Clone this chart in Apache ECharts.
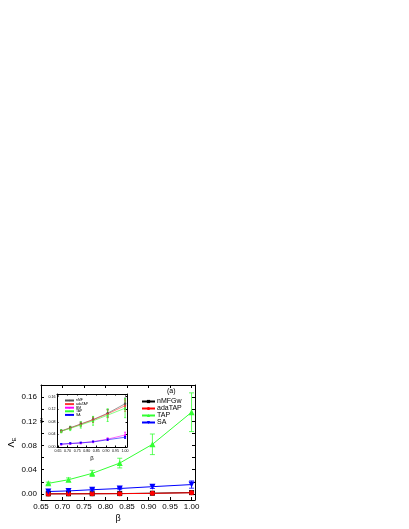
<!DOCTYPE html>
<html>
<head>
<meta charset="utf-8">
<script src="https://cdn.jsdelivr.net/npm/echarts@6/dist/echarts.min.js"></script>
<style>
  html, body { margin: 0; padding: 0; background: #fff; }
  #main { width: 409px; height: 529px; }
</style>
</head>
<body>
<div id="main"></div>
<script>
// beta values (x)
var beta = [0.667, 0.714, 0.769, 0.833, 0.909, 1.0];

// main panel
var nmfgw = [0.0002, 0.0003, 0.0004, 0.0006, 0.0012, 0.0022];
var adaTap = [0.0001, 0.0002, 0.0003, 0.0005, 0.0010, 0.0020];
var tap = [0.0175, 0.0235, 0.034, 0.051, 0.082, 0.135];
var tapErr = [0.002, 0.003, 0.005, 0.008, 0.017, 0.032];
var sa = [0.004, 0.005, 0.007, 0.009, 0.012, 0.0155];
var saErr = [0.001, 0.001, 0.0015, 0.002, 0.003, 0.006];

// inset
var inNmf = [0.051, 0.061, 0.073, 0.087, 0.107, 0.137];
var inNmfErr = [0.003, 0.004, 0.006, 0.008, 0.012, 0.018];
var inAda = [0.050, 0.060, 0.072, 0.086, 0.105, 0.131];
var inAdaErr = [0.003, 0.004, 0.006, 0.008, 0.012, 0.018];
var inBm = [0.009, 0.011, 0.013, 0.017, 0.025, 0.038];
var inBmErr = [0.001, 0.001, 0.002, 0.002, 0.004, 0.009];
var inTap = [0.050, 0.059, 0.070, 0.083, 0.101, 0.123];
var inTapErr = [0.005, 0.007, 0.010, 0.014, 0.020, 0.030];
var inSa = [0.009, 0.011, 0.013, 0.016, 0.023, 0.031];
var inSaErr = [0.001, 0.001, 0.001, 0.002, 0.002, 0.004];

var xTicks = [0.65, 0.70, 0.75, 0.80, 0.85, 0.90, 0.95, 1.00];
var yLabels = [0, 0.04, 0.08, 0.12, 0.16];
var yMinor = [0, 0.02, 0.04, 0.06, 0.08, 0.10, 0.12, 0.14, 0.16, 0.18];

var FONT = 'Liberation Sans';

function pts(ys) {
  return beta.map(function(b, i) { return [b, ys[i]]; });
}
function errs(ys, es) {
  return beta.map(function(b, i) { return [b, ys[i] - es[i], ys[i] + es[i]]; });
}

function errSeries(ys, es, color, xi, yi, cap) {
  return {
    type: 'custom',
    xAxisIndex: xi,
    yAxisIndex: yi,
    silent: true,
    z: 1,
    data: errs(ys, es),
    renderItem: function(params, api) {
      var lo = api.coord([api.value(0), api.value(1)]);
      var hi = api.coord([api.value(0), api.value(2)]);
      var st = { stroke: color, lineWidth: 0.8 };
      return {
        type: 'group',
        children: [
          { type: 'line', shape: { x1: lo[0], y1: lo[1], x2: hi[0], y2: hi[1] }, style: st },
          { type: 'line', shape: { x1: lo[0] - cap, y1: lo[1], x2: lo[0] + cap, y2: lo[1] }, style: st },
          { type: 'line', shape: { x1: hi[0] - cap, y1: hi[1], x2: hi[0] + cap, y2: hi[1] }, style: st }
        ]
      };
    }
  };
}

function lineSeries(name, ys, color, symbol, size, xi, yi, lw) {
  return {
    name: name,
    type: 'line',
    xAxisIndex: xi,
    yAxisIndex: yi,
    data: pts(ys),
    symbol: symbol,
    symbolSize: size,
    showAllSymbol: true,
    z: 2,
    lineStyle: { color: color, width: lw },
    itemStyle: { color: color },
    emphasis: { disabled: true }
  };
}

function frameX(grid, min, max, show, fs, len, margin) {
  var ax = {
    type: 'value',
    gridIndex: grid,
    min: min,
    max: max,
    position: show ? 'bottom' : 'top',
    splitLine: { show: false },
    axisLine: { show: true, onZero: false, lineStyle: { color: '#000', width: 1 } },
    axisTick: { show: true, inside: true, length: len, customValues: xTicks, lineStyle: { color: '#000' } },
    axisLabel: { show: show, customValues: xTicks, fontFamily: FONT, fontSize: fs, color: '#000', margin: margin,
      formatter: function(v) { return v.toFixed(2); } }
  };
  return ax;
}

var myChart = echarts.init(document.getElementById('main'));
var option = {
  animation: false,
  backgroundColor: '#fff',
  grid: [
    { left: 41, right: 214, top: 385, bottom: 29 },
    { left: 57, right: 282, top: 394, bottom: 82, backgroundColor: '#fff', show: true, borderWidth: 0 }
  ],
  xAxis: [
    Object.assign(frameX(0, 0.65, 1.008, true, 8, 3, 3), { name: 'β', nameLocation: 'middle', nameGap: 14,
      nameTextStyle: { fontFamily: FONT, fontSize: 9, color: '#000' } }),
    frameX(0, 0.65, 1.008, false, 8, 3, 3),
    Object.assign(frameX(1, 0.645, 1.01, true, 3.6, 1.5, 1.5), { name: 'β', nameLocation: 'middle', nameGap: 8,
      nameTextStyle: { fontFamily: FONT, fontSize: 6, color: '#000' } }),
    frameX(1, 0.645, 1.01, false, 3.6, 1.5, 1.5)
  ],
  yAxis: [
    {
      type: 'value', gridIndex: 0, min: -0.01, max: 0.18, position: 'left',
      name: '{a|Λ}{s|E}', nameLocation: 'middle', nameGap: 24, nameRotate: 90,
      nameTextStyle: { rich: {
        a: { fontFamily: FONT, fontSize: 9, color: '#000' },
        s: { fontFamily: FONT, fontSize: 6, color: '#000', verticalAlign: 'bottom', padding: [4, 0, 0, 0] }
      } },
      splitLine: { show: false },
      axisLine: { show: true, onZero: false, lineStyle: { color: '#000' } },
      axisTick: { show: true, inside: true, length: 3, customValues: yMinor, lineStyle: { color: '#000' } },
      axisLabel: { customValues: yLabels, fontFamily: FONT, fontSize: 8, color: '#000', margin: 4,
        formatter: function(v) { return v.toFixed(2); } }
    },
    {
      type: 'value', gridIndex: 0, min: -0.01, max: 0.18, position: 'right',
      splitLine: { show: false },
      axisLine: { show: true, onZero: false, lineStyle: { color: '#000' } },
      axisTick: { show: true, inside: true, length: 3, customValues: yMinor, lineStyle: { color: '#000' } },
      axisLabel: { show: false }
    },
    {
      type: 'value', gridIndex: 1, min: 0, max: 0.168, position: 'left',
      name: '{a|σ}{s|J}', nameLocation: 'middle', nameGap: 7, nameRotate: 90,
      nameTextStyle: { rich: {
        a: { fontFamily: FONT, fontSize: 5.5, color: '#000' },
        s: { fontFamily: FONT, fontSize: 3.5, color: '#000' }
      } },
      splitLine: { show: false },
      axisLine: { show: true, onZero: false, lineStyle: { color: '#000' } },
      axisTick: { show: true, inside: true, length: 1.5, customValues: yLabels, lineStyle: { color: '#000' } },
      axisLabel: { customValues: yLabels, fontFamily: FONT, fontSize: 3.6, color: '#000', margin: 1.5,
        formatter: function(v) { return v.toFixed(2); } }
    },
    {
      type: 'value', gridIndex: 1, min: 0, max: 0.168, position: 'right',
      splitLine: { show: false },
      axisLine: { show: true, onZero: false, lineStyle: { color: '#000' } },
      axisTick: { show: true, inside: true, length: 1.5, customValues: yLabels, lineStyle: { color: '#000' } },
      axisLabel: { show: false }
    }
  ],
  legend: [
    {
      orient: 'vertical', left: 136, top: 393, itemWidth: 13, itemHeight: 4, itemGap: 0,
      data: ['nMFGw', 'adaTAP', 'TAP', 'SA'],
      textStyle: { fontFamily: FONT, fontSize: 7, lineHeight: 7, color: '#000', padding: [0, 0, 0, -3] }
    },
    {
      orient: 'vertical', left: 59, top: 394, itemWidth: 9, itemHeight: 2, itemGap: 0.6,
      data: ['nMF', 'adaTAP ', 'BM', 'TAP ', 'SA '],
      textStyle: { fontFamily: FONT, fontSize: 3.4, color: '#000', padding: [0, 0, 0, -3] }
    }
  ],
  graphic: [
    { type: 'text', left: 167, top: 388, style: { text: '(a)', fontFamily: FONT, fontSize: 7, fill: '#000' } }
  ],
  series: [
    // main panel
    errSeries(tap, tapErr, '#33ff33', 0, 0, 2.5),
    errSeries(sa, saErr, '#0000ff', 0, 0, 2.5),
    lineSeries('nMFGw', nmfgw, '#000000', 'rect', 5, 0, 0, 1),
    lineSeries('adaTAP', adaTap, '#ff0000', 'circle', 5, 0, 0, 1),
    lineSeries('TAP', tap, '#33ff33', 'triangle', 6, 0, 0, 1),
    lineSeries('SA', sa, '#0000ff', 'path://M0,0 L10,0 L5,10 Z', 6, 0, 0, 1),
    // inset
    errSeries(inNmf, inNmfErr, '#333333', 2, 2, 1),
    errSeries(inAda, inAdaErr, '#ff3333', 2, 2, 1),
    errSeries(inTap, inTapErr, '#33ff33', 2, 2, 1),
    errSeries(inBm, inBmErr, '#ff00ff', 2, 2, 1),
    errSeries(inSa, inSaErr, '#0000ff', 2, 2, 1),
    lineSeries('nMF', inNmf, '#555555', 'circle', 2.5, 2, 2, 0.6),
    lineSeries('adaTAP ', inAda, '#ff3333', 'path://M5,0 L6.2,3.8 L10,3.8 L7,6.2 L8.1,10 L5,7.6 L1.9,10 L3,6.2 L0,3.8 L3.8,3.8 Z', 3, 2, 2, 0.6),
    lineSeries('BM', inBm, '#ff00ff', 'triangle', 2.5, 2, 2, 0.6),
    lineSeries('TAP ', inTap, '#33ff33', 'triangle', 2.5, 2, 2, 0.6),
    lineSeries('SA ', inSa, '#0000ff', 'path://M0,0 L10,0 L5,10 Z', 2.5, 2, 2, 0.6)
  ]
};
myChart.setOption(option);
</script>
</body>
</html>
